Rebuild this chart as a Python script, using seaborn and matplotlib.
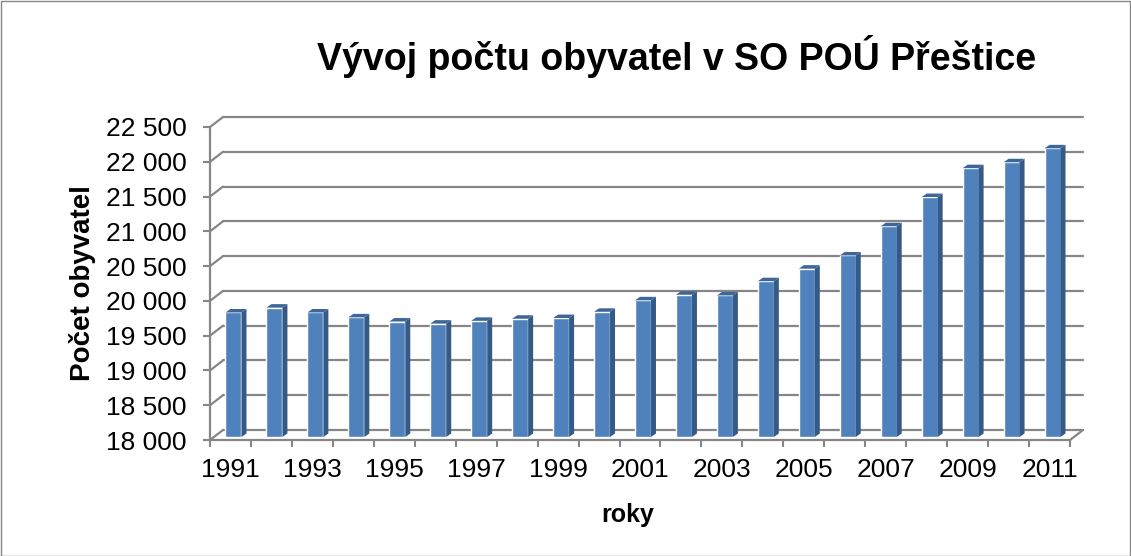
import matplotlib
matplotlib.use("Agg")
import matplotlib.pyplot as plt
import seaborn as sns
import pandas as pd
from matplotlib.lines import Line2D
from matplotlib.patches import Polygon, Rectangle
from matplotlib.transforms import IdentityTransform, ScaledTranslation

sns.set_style("white")
plt.rcParams['font.family'] = ['Liberation Sans', 'DejaVu Sans']
plt.rcParams['text.color'] = 'black'
plt.rcParams['axes.labelcolor'] = 'black'

# data
years = [str(y) for y in range(1991, 2012)]
population = [19790, 19860, 19790, 19720, 19660, 19630, 19670, 19700, 19710, 19800,
              19965, 20045, 20035, 20240, 20420, 20610, 21030, 21450, 21865, 21950, 22150]
y_ticks = [18000, 18500, 19000, 19500, 20000, 20500, 21000, 21500, 22000, 22500]
y_labels = ['18 000', '18 500', '19 000', '19 500', '20 000',
            '20 500', '21 000', '21 500', '22 000', '22 500']

W, H = 1131, 556
grid_col = '#868686'
front_col = '#4F81BD'
side_col = '#355A86'
top_col = '#3E6699'

fig = plt.figure(figsize=(W / 100, H / 100), dpi=100)
x0, x1, yb, yt = 210, 1070, 440, 127
ax = fig.add_axes([x0 / W, 1 - yb / H, (x1 - x0) / W, (yb - yt) / H])

df = pd.DataFrame({'rok': years, 'obyvatel': population})
sns.barplot(data=df, x='rok', y='obyvatel', color=front_col, saturation=1,
            width=0.39, ax=ax, zorder=3)
ax.set_ylim(18000, 22500)
ax.set_xlim(-0.5, len(years) - 0.5)

# bars sit slightly inside the 3D floor
shift = ax.transData + ScaledTranslation(0.03, 0.03, fig.dpi_scale_trans)
ident = IdentityTransform()
bdx, bdy = 5, 3.5
for p in ax.patches:
    h = p.get_height()
    p.set_y(18000)
    p.set_height(h - 18000)
    p.set_transform(shift)
    p.set_clip_on(False)
    (xl, ylo), (xr, yhi) = shift.transform([(p.get_x(), 18000),
                                            (p.get_x() + p.get_width(), h)])
    side = Polygon([(xr, ylo), (xr + bdx, ylo + bdy), (xr + bdx, yhi + bdy), (xr, yhi)],
                   closed=True, facecolor=side_col, edgecolor='none',
                   transform=ident, zorder=3.1, clip_on=False)
    top = Polygon([(xl, yhi), (xl + bdx, yhi + bdy), (xr + bdx, yhi + bdy), (xr, yhi)],
                  closed=True, facecolor=top_col, edgecolor='none',
                  transform=ident, zorder=3.2, clip_on=False)
    ax.add_patch(side)
    ax.add_patch(top)

# back wall grid, side wall and floor
wdx, wdy = 13, 10
X0, _ = ax.transData.transform((-0.5, 18000))
X1, Y0 = ax.transData.transform((len(years) - 0.5, 18000))
for v in y_ticks:
    _, Y = ax.transData.transform((0, v))
    ax.add_line(Line2D([X0 + wdx, X1 + wdx], [Y + wdy, Y + wdy], color=grid_col,
                       lw=1.6, transform=ident, zorder=1, clip_on=False))
    ax.add_line(Line2D([X0, X0 + wdx], [Y, Y + wdy], color=grid_col,
                       lw=1.6, transform=ident, zorder=1, clip_on=False))
ax.add_line(Line2D([X1, X1 + wdx], [Y0, Y0 + wdy], color=grid_col,
                   lw=1.6, transform=ident, zorder=1, clip_on=False))

for s in ['top', 'right']:
    ax.spines[s].set_visible(False)
for s in ['left', 'bottom']:
    ax.spines[s].set_color(grid_col)
    ax.spines[s].set_linewidth(1.6)

ax.set_yticks(y_ticks, y_labels)
ax.tick_params(axis='y', length=5, width=1.5, color=grid_col, labelcolor='black',
               pad=12, labelsize=19, left=True)
ax.set_xticks(range(0, len(years), 2), years[::2])
ax.set_xticks([i - 0.5 for i in range(len(years) + 1)], minor=True)
ax.tick_params(axis='x', which='major', length=0, pad=13, labelsize=19,
               labelcolor='black')
ax.tick_params(axis='x', which='minor', length=5, width=1.5, color=grid_col, bottom=True)

ax.set_ylabel('Počet obyvatel', fontsize=20, fontweight='bold', color='black')
ax.yaxis.set_label_coords(-0.133, 0.5)
ax.set_xlabel('roky', fontsize=18, fontweight='bold', color='black')
ax.xaxis.set_label_coords(0.486, -0.2)

fig.text(677 / W, 1 - 57 / H, 'Vývoj počtu obyvatel v SO POÚ Přeštice',
         ha='center', va='center', fontsize=27, fontweight='bold', color='black')

fig.add_artist(Rectangle((0.5 / W, 0.5 / H), 1 - 1.5 / W, 1 - 1.5 / H,
                         transform=fig.transFigure, fill=False,
                         edgecolor='#868686', lw=1))

fig.savefig('out.png', dpi=100)
